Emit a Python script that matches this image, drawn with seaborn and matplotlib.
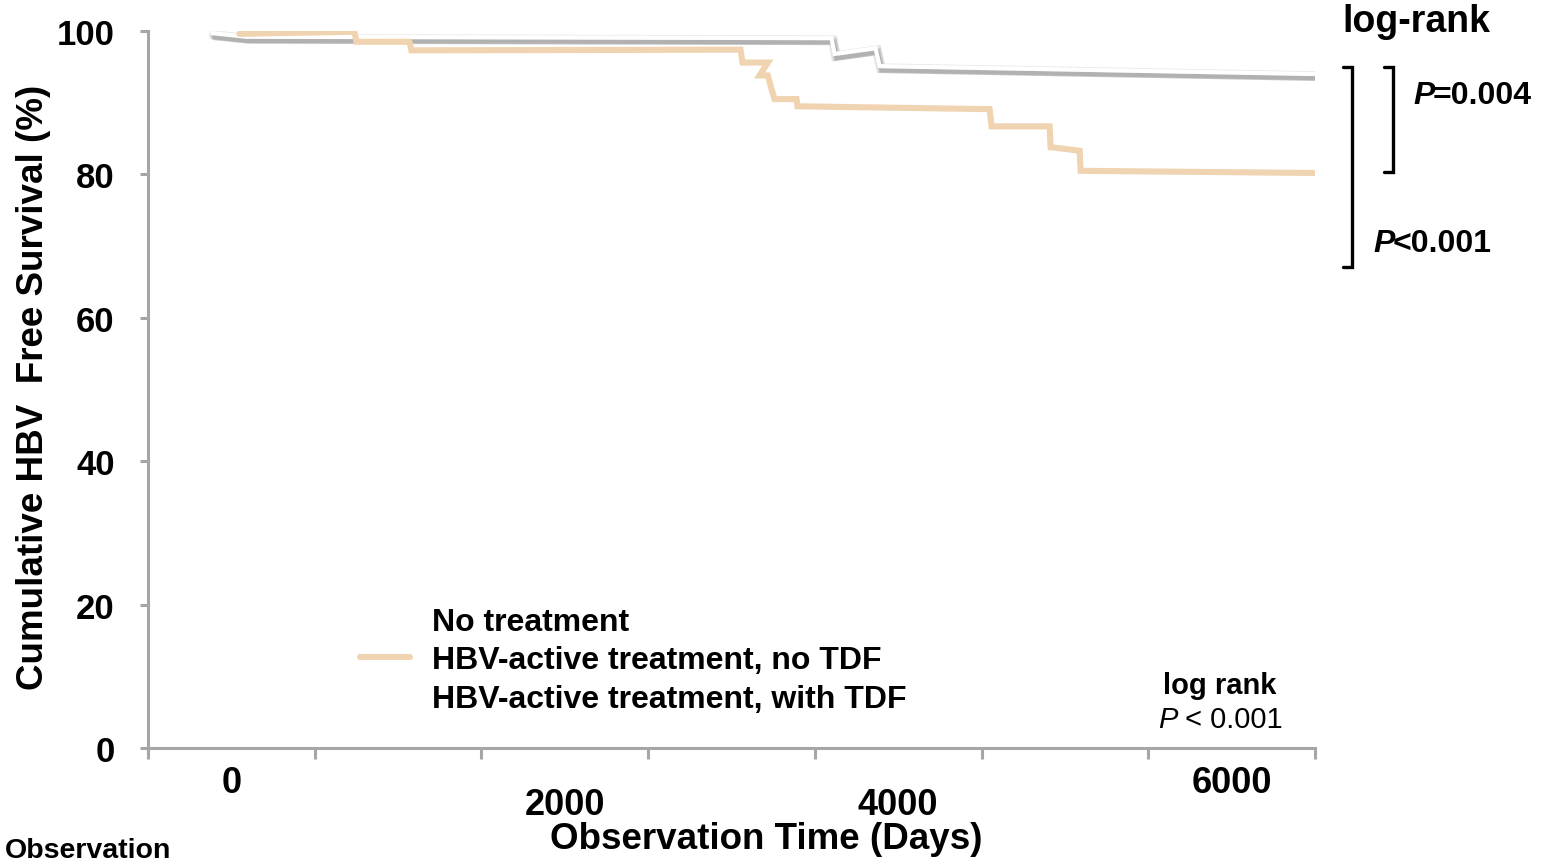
import pandas as pd
import seaborn as sns
import matplotlib.pyplot as plt
import matplotlib.patheffects as pe
from matplotlib.lines import Line2D
from matplotlib.transforms import blended_transform_factory

# ---- data -------------------------------------------------------------
groups = ["No treatment",
          "HBV-active treatment, no TDF",
          "HBV-active treatment, with TDF"]

# traced survival curves (days, % HBV-free)
with_tdf_days = [-114, 90, 3600, 3618, 3864, 3888, 6498]
with_tdf_surv = [99.7, 99.2, 99.0, 96.8, 97.6, 95.1, 94.0]

no_tdf_days = [48, 738, 750, 1068, 1080, 3054, 3066, 3218, 3168, 3218, 3240,
               3258, 3390, 3396, 4548, 4560, 4908, 4914, 5088, 5094, 6498]
no_tdf_surv = [99.6, 99.9, 98.5, 98.5, 97.3, 97.4, 95.6, 95.6, 93.8, 93.8, 91.9,
               90.5, 90.5, 89.5, 89.1, 86.7, 86.7, 83.8, 83.3, 80.5, 80.2]

x_tick_days = [-500, 500, 1500, 2500, 3500, 4500, 5500, 6500]
x_label_days = [0, 2000, 4000, 6000]
y_ticks = [0, 20, 40, 60, 80, 100]

# log-rank bracket levels (% survival)
bracket_top = 95.0
bracket_small_bottom = 80.3
bracket_big_bottom = 67.1

ORANGE = "#F0D3B0"
AXIS_GREY = "#A6A6A6"

# ---- style ------------------------------------------------------------
sns.set_theme(style="white")
plt.rcParams["font.family"] = ["Liberation Sans", "DejaVu Sans"]
plt.rcParams["text.color"] = "black"
plt.rcParams["axes.labelcolor"] = "black"

W, H = 1547, 862
fig = plt.figure(figsize=(W / 100, H / 100), dpi=100)
ax = fig.add_axes([148 / W, (H - 749) / H, (1315 - 148) / W, (749 - 32) / H])


def fx(px):
    return px / W


def fy(py):
    return 1 - py / H


df = pd.concat([
    pd.DataFrame({"days": with_tdf_days, "surv": with_tdf_surv, "group": groups[2]}),
    pd.DataFrame({"days": no_tdf_days, "surv": no_tdf_surv, "group": groups[1]}),
], ignore_index=True)

sns.lineplot(data=df, x="days", y="surv", hue="group",
             hue_order=[groups[2], groups[1]],
             palette={groups[2]: "white", groups[1]: ORANGE},
             sort=False, estimator=None, legend=False, ax=ax)

white_line, orange_line = ax.lines[0], ax.lines[1]
white_line.set_linewidth(3.0)
white_line.set_zorder(2)
white_line.set_solid_joinstyle("miter")
white_line.set_path_effects([
    pe.SimpleLineShadow(offset=(1.0, -1.5), shadow_color="#a0a0a0", alpha=0.25, linewidth=7),
    pe.SimpleLineShadow(offset=(1.5, -2.5), shadow_color="#909090", alpha=0.35, linewidth=5),
    pe.SimpleLineShadow(offset=(1.5, -3.0), shadow_color="#888888", alpha=0.35, linewidth=3),
    pe.Normal(),
])
orange_line.set_linewidth(4.4)
orange_line.set_zorder(3)
orange_line.set_solid_joinstyle("miter")

# ---- axes -------------------------------------------------------------
ax.set_xlim(-500, 6500)
ax.set_ylim(0, 100)
for side in ("top", "right"):
    ax.spines[side].set_visible(False)
for side in ("left", "bottom"):
    ax.spines[side].set_color(AXIS_GREY)
    ax.spines[side].set_linewidth(2.2)

ax.set_xticks(x_tick_days)
ax.set_xticklabels([])
ax.tick_params(axis="x", direction="out", length=8, width=2.2, color=AXIS_GREY, bottom=True)
ax.set_yticks(y_ticks)
ax.set_yticklabels([str(v) for v in y_ticks], fontsize=25, fontweight="bold")
ax.tick_params(axis="y", direction="out", length=6, width=2.2, color=AXIS_GREY,
               labelcolor="black", left=True, pad=18)

ax.set_ylabel("Cumulative HBV  Free Survival (%)", fontsize=26.5, fontweight="bold")
ax.yaxis.set_label_coords(-0.083, 0.505)
ax.set_xlabel("")

# x labels placed under the axis at staggered heights
tx = blended_transform_factory(ax.transData, fig.transFigure)
label_rows = [784, 806, 806, 784]
for d, row in zip(x_label_days, label_rows):
    ax.text(d, fy(row), str(d), transform=tx, ha="center", va="center",
            fontsize=26, fontweight="bold")

fig.text(fx(766), fy(840), "Observation Time (Days)", ha="center", va="center",
         fontsize=26.5, fontweight="bold")
fig.text(fx(5), fy(851), "Observation", ha="left", va="center",
         fontsize=20.5, fontweight="bold")

# ---- legend -----------------------------------------------------------
handles = [Line2D([], [], color="white", lw=4.4),
           Line2D([], [], color=ORANGE, lw=4.4),
           Line2D([], [], color="white", lw=4.4)]
leg = ax.legend(handles, groups, loc="upper left",
                bbox_to_anchor=(fx(360), fy(608)), bbox_transform=fig.transFigure,
                frameon=False, borderpad=0, borderaxespad=0,
                handlelength=1.57, handletextpad=0.69, labelspacing=0.26,
                prop={"size": 23, "weight": "bold"})
for t in leg.get_texts():
    t.set_color("black")

# ---- log-rank annotations --------------------------------------------
fig.text(fx(1220), fy(686), "log rank", ha="center", va="center", fontsize=21, fontweight="bold")
p1 = fig.text(fx(1158), fy(720), "P", ha="left", va="center", fontsize=21, style="italic")
ax.annotate(" < 0.001", xy=(1, 0), xycoords=p1, va="bottom", ha="left", fontsize=21)

fig.text(fx(1342), fy(22), "log-rank", ha="left", va="center", fontsize=27, fontweight="bold")

arm = 54
ax.plot([6720 - arm, 6720, 6720, 6720 - arm],
        [bracket_top, bracket_top, bracket_big_bottom, bracket_big_bottom],
        color="black", lw=2.4, clip_on=False, solid_joinstyle="miter")
ax.plot([6966 - arm, 6966, 6966, 6966 - arm],
        [bracket_top, bracket_top, bracket_small_bottom, bracket_small_bottom],
        color="black", lw=2.4, clip_on=False, solid_joinstyle="miter")

p2 = fig.text(fx(1413), fy(96), "P", ha="left", va="center", fontsize=23,
              fontweight="bold", style="italic")
ax.annotate("=0.004", xy=(0.92, 0), xycoords=p2, va="bottom", ha="left",
            fontsize=23, fontweight="bold")
p3 = fig.text(fx(1373), fy(244), "P", ha="left", va="center", fontsize=23,
              fontweight="bold", style="italic")
ax.annotate("<0.001", xy=(0.92, 0), xycoords=p3, va="bottom", ha="left",
            fontsize=23, fontweight="bold")

fig.savefig("out.png", dpi=100)
